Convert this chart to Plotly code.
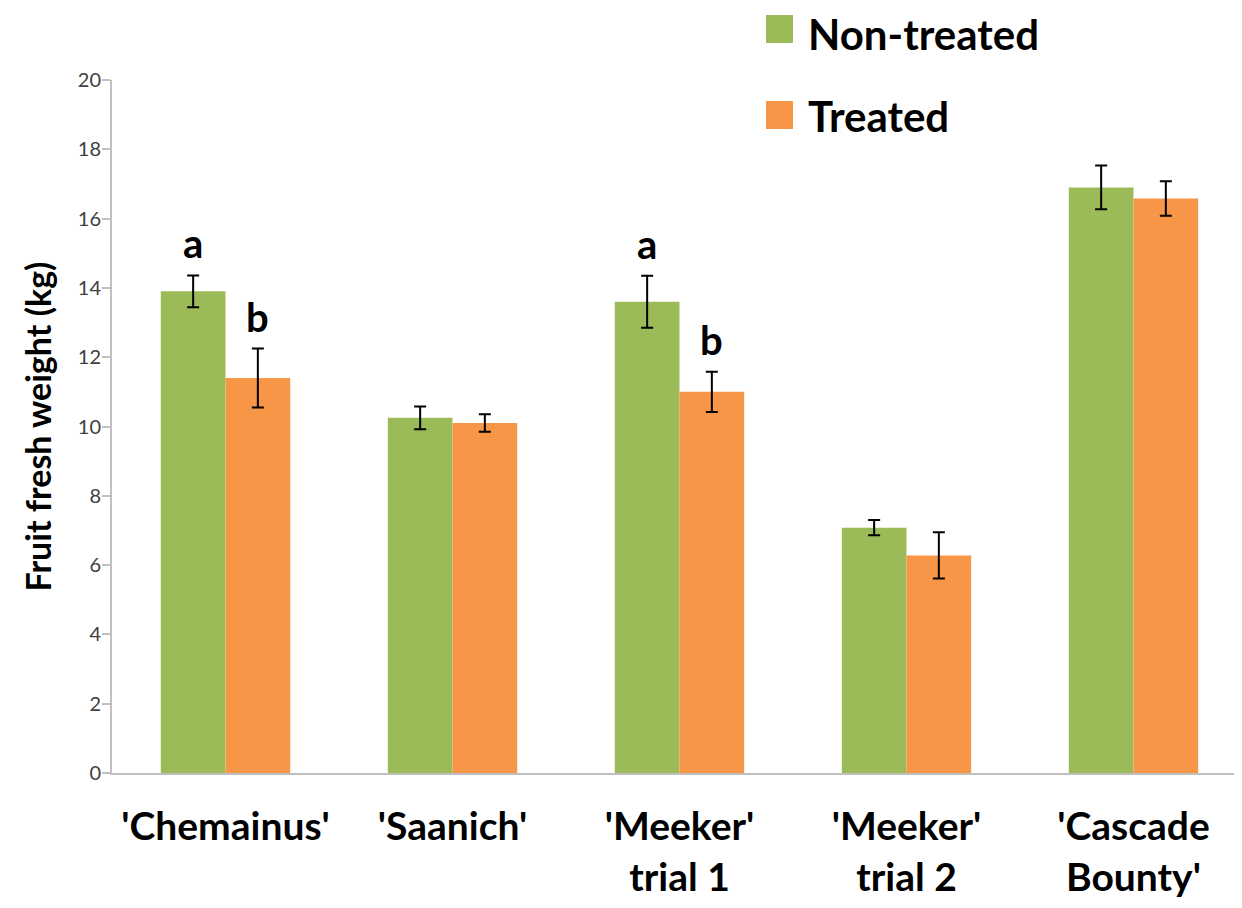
import plotly.graph_objects as go

categories = ["'Chemainus'", "'Saanich'", "'Meeker'<br>trial 1", "'Meeker'<br>trial 2", "'Cascade<br>Bounty'"]
non_treated = [13.9, 10.25, 13.6, 7.08, 16.9]
non_treated_err = [0.46, 0.33, 0.75, 0.22, 0.63]
treated = [11.4, 10.1, 11.0, 6.28, 16.58]
treated_err = [0.85, 0.25, 0.58, 0.67, 0.5]
sig_non = ["a", "", "a", "", ""]
sig_tr = ["b", "", "b", "", ""]
series_names = ["Non-treated", "Treated"]
colors = ["#9BBB59", "#F79646"]

FONT = "Lato"
xs = list(range(len(categories)))

# page has an 8px body margin; figure coordinates = page coordinates - 8
OFF = 8
W, H = 1242 - OFF, 908 - OFF
ml, mr, mt, mb = 112 - OFF, 0, 80 - OFF, 135
pw, ph = W - ml - mr, H - mt - mb

fig = go.Figure()
for name, vals, errs, col in [(series_names[0], non_treated, non_treated_err, colors[0]),
                              (series_names[1], treated, treated_err, colors[1])]:
    fig.add_trace(go.Bar(
        x=xs, y=vals, name=name, marker=dict(color=col, line=dict(width=0)),
        error_y=dict(type="data", array=errs, visible=True, color="black", thickness=2, width=6),
        showlegend=False,
    ))

annotations = []
bar_off = 0.1425
for i in xs:
    for sig, vals, errs, off in [(sig_non, non_treated, non_treated_err, -bar_off),
                                 (sig_tr, treated, treated_err, bar_off)]:
        if sig[i]:
            annotations.append(dict(x=i + off, y=vals[i] + errs[i], xref="x", yref="y",
                                    text="<b>%s</b>" % sig[i], showarrow=False,
                                    yanchor="bottom", yshift=6,
                                    font=dict(family=FONT, size=40, color="black")))

shapes = []
legend_rows = [34, 116]
for k, (name, col) in enumerate(zip(series_names, colors)):
    cy = legend_rows[k] - OFF
    sy = 27 + 86 * k - OFF + 2
    annotations.append(dict(x=(806 - OFF - ml) / pw, y=(H - mb - cy) / ph, xref="paper", yref="paper",
                            text="<b>%s</b>" % name, showarrow=False, xanchor="left", yanchor="middle",
                            font=dict(family=FONT, size=42, color="black")))
    shapes.append(dict(type="rect", xref="paper", yref="paper",
                       x0=(766 - OFF - ml) / pw, x1=(793 - OFF - ml) / pw,
                       y0=(H - mb - (sy + 14)) / ph, y1=(H - mb - (sy - 14)) / ph,
                       fillcolor=col, line=dict(width=0)))

fig.update_layout(
    annotations=annotations,
    shapes=shapes,
    width=W, height=H,
    margin=dict(l=ml, r=mr, t=mt, b=mb, pad=0),
    plot_bgcolor="white", paper_bgcolor="white",
    barmode="group", bargap=0.43, bargroupgap=0,
    xaxis=dict(range=[-0.5, 4.478], tickvals=xs, ticktext=["<b>%s</b>" % c for c in categories],
               showline=True, linecolor="#BFBFBF", linewidth=2, ticks="", showgrid=False,
               tickfont=dict(family=FONT, size=39, color="black"), ticklabelstandoff=18, zeroline=False),
    yaxis=dict(range=[0, 20], dtick=2, showline=True, linecolor="#BFBFBF", linewidth=2,
               ticks="outside", ticklen=8, tickcolor="#BFBFBF", tickwidth=2, showgrid=False, zeroline=False,
               tickfont=dict(family=FONT, size=20, color="#404040"), ticklabelstandoff=-3,
               title=dict(text="<b>Fruit fresh weight (kg)</b>", font=dict(family=FONT, size=34, color="black"),
                          standoff=16)),
)

fig.write_html("out.html")
